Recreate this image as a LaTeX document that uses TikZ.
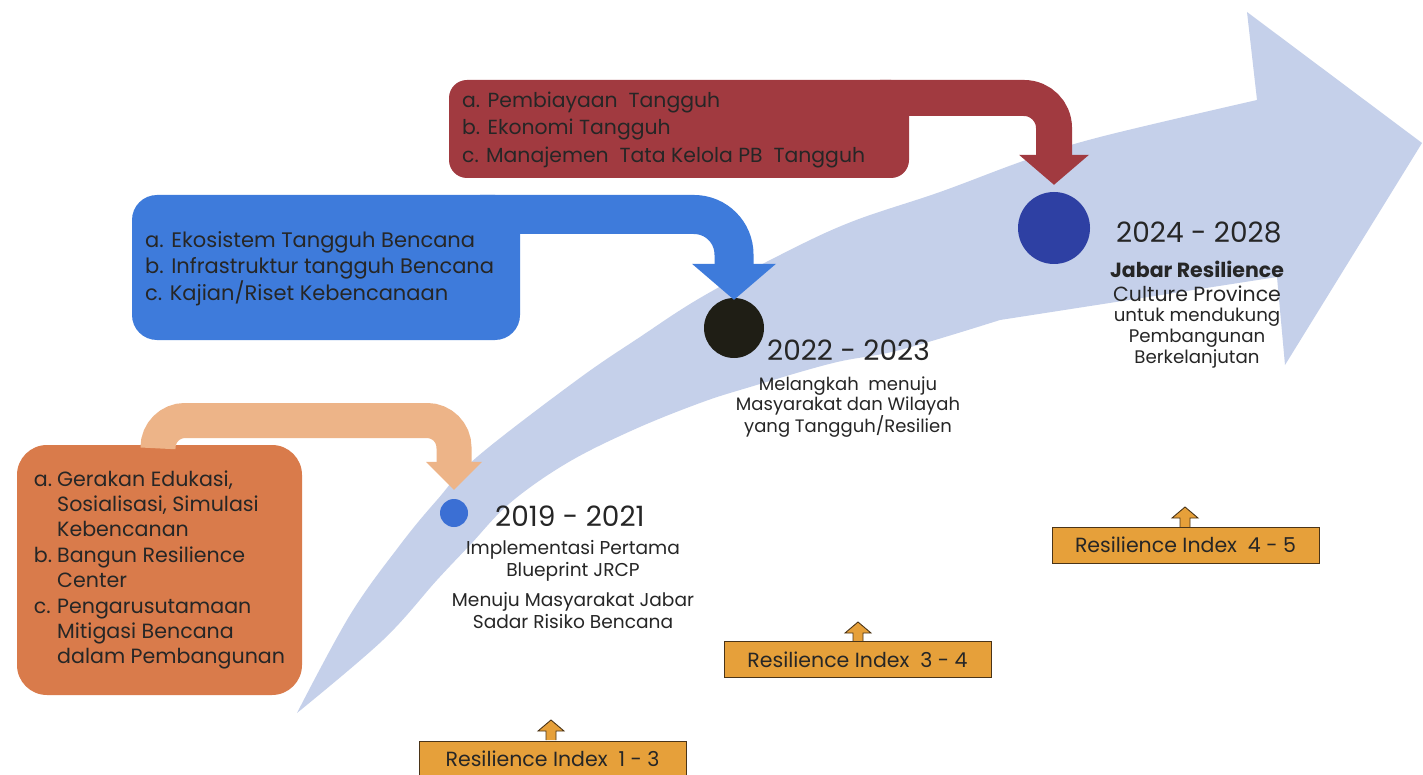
\documentclass[tikz,border=0pt]{standalone}
\usepackage{fontspec}
\setmainfont{Poppins}
\definecolor{bandc}{HTML}{C5D0EA}
\definecolor{peachc}{HTML}{EDB488}
\definecolor{oboxc}{HTML}{D97B4B}
\definecolor{bluec}{HTML}{3E7BDB}
\definecolor{redc}{HTML}{A13A40}
\definecolor{idxc}{HTML}{E6A03A}
\definecolor{idxb}{HTML}{4A3418}
\definecolor{txtc}{HTML}{262626}
\definecolor{dotA}{HTML}{3B6FD4}
\definecolor{dotB}{HTML}{1F1E15}
\definecolor{dotC}{HTML}{2E40A3}
\newcommand\setfs[2]{\fontsize{#1}{#2}\selectfont}
\begin{document}
\begin{tikzpicture}[x=1pt,y=-1pt,
  lbl/.style={text=txtc, inner sep=0pt},
  idxbox/.style={fill=idxc, draw=idxb, line width=0.9pt, minimum width=267pt, minimum height=36pt, inner sep=0pt, text=txtc, font=\setfs{20.5}{22}},
  idxarrow/.style={fill=idxc, draw=idxb, line width=0.9pt, line join=miter},
  dotstyle/.style={circle, inner sep=0pt}
]
\useasboundingbox (0,0) rectangle (1423,775);
\fill[white] (0,0) rectangle (1423,775);

% big curved background arrow
\fill[bandc] plot[smooth, tension=0.6] coordinates {(297,713) (350,615) (400,545) (437,500) (477,457) (577,380) (640,337) (700,298) (780,255) (851,222) (940,192) (1026,160) (1100,137) (1257,100)}
  -- (1247,12) -- (1422,143) -- (1285,365) -- (1277,277)
  -- plot[smooth, tension=0.6] coordinates {(1000,320) (900,350) (833,363) (750,387) (700,403) (633,430) (567,463) (510,503) (470,545) (437,580) (383,640) (297,713)} -- cycle;

% dots
\node[dotstyle, fill=dotA, minimum size=28pt] (d1) at (454,513) {};
\node[dotstyle, fill=dotB, minimum size=60pt] (d2) at (734,328) {};
\node[dotstyle, fill=dotC, minimum size=72pt] (d3) at (1054,228) {};

% orange box and peach connector
\node[fill=oboxc, rounded corners=30pt, minimum width=285pt, minimum height=250pt, inner sep=0pt] (ob) at (159.5,570) {};
\coordinate (pk) at (158,420.5);
\draw[peachc, line width=35pt, rounded corners=27pt] (ob.north -| pk) -- (pk) -| ([yshift=34pt]d1.north);
\fill[peachc] ([yshift=9pt]d1.north) -- ++(-28,-28) -- ++(56,0) -- cycle;
\node[lbl, anchor=center] (obt) at (ob.center) {\setfs{20.6}{25.4}\begin{tabular}{@{}l@{\hspace{5pt}}l@{}}
a. & Gerakan Edukasi,\\
   & Sosialisasi, Simulasi\\
   & Kebencanan\\
b. & Bangun Resilience\\
   & Center\\
c. & Pengarusutamaan\\
   & Mitigasi Bencana\\
   & dalam Pembangunan
\end{tabular}};

% blue box and connector
\node[fill=bluec, rounded corners=25pt, minimum width=388pt, minimum height=145pt, inner sep=0pt] (bb) at (326,267.5) {};
\coordinate (bk) at (480,214.5);
\draw[bluec, line width=39pt, rounded corners=40pt] (bk) -| ([yshift=32pt]d2.north);
\fill[bluec] ([yshift=-2pt]d2.north) -- ++(-42,-36) -- ++(84,0) -- cycle;
\node[lbl, anchor=west, align=left, font=\setfs{21}{26.5}] (bbt) at (145,268.5) {a. Ekosistem Tangguh Bencana\\b. Infrastruktur tangguh Bencana\\c. Kajian/Riset Kebencanaan};

% red box and connector
\node[fill=redc, rounded corners=18pt, minimum width=460pt, minimum height=98pt, inner sep=0pt] (rb) at (679,129) {};
\coordinate (rk) at (880,98);
\draw[redc, line width=36pt, rounded corners=30pt] (rk) -| ([yshift=35pt]d3.north);
\fill[redc] ([yshift=7pt]d3.north) -- ++(-35,-30) -- ++(70,0) -- cycle;
\node[lbl, anchor=west, align=left, font=\setfs{20.4}{27.5}] (rbt) at (462,129.5) {a. Pembiayaan\ \ Tangguh\\b. Ekonomi Tangguh\\c. Manajemen\ \ Tata Kelola PB\ \ Tangguh};

% year labels
\node[lbl, anchor=west, font=\setfs{28}{30}] (y1) at (495,516) {2019 - 2021};
\node[lbl, font=\setfs{18.6}{22}, align=center] (t1a) at (573,561) {Implementasi Pertama\\Blueprint JRCP};
\node[lbl, font=\setfs{18.6}{22}, align=center] (t1b) at (573,611) {Menuju Masyarakat Jabar\\Sadar Risiko Bencana};

\node[lbl, anchor=west, font=\setfs{28}{30}] (y2) at (767,350) {2022 - 2023};
\node[lbl, font=\setfs{18}{20}, align=center] (t2) at (848,407) {Melangkah\ \ menuju\\Masyarakat dan Wilayah\\yang Tangguh/Resilien};

\node[lbl, anchor=west, font=\setfs{28}{30}] (y3) at (1116,232) {2024 - 2028};
\node[lbl, font=\setfs{20.5}{24}, align=center] (t3a) at (1197,281) {\bfseries Jabar Resilience\\Culture Province};
\node[lbl, font=\setfs{18.2}{21}, align=center] (t3b) at (1197,338) {untuk mendukung\\Pembangunan\\Berkelanjutan};

% resilience index boxes with small up arrows
\draw[idxarrow] (546,740) -- ++(0,-9) -- ++(-8,0) -- ++(13,-11) -- ++(13,11) -- ++(-8,0) -- ++(0,9);
\draw[idxarrow] (853,642) -- ++(0,-9) -- ++(-8,0) -- ++(13,-11) -- ++(13,11) -- ++(-8,0) -- ++(0,9);
\draw[idxarrow] (1180,527) -- ++(0,-9) -- ++(-8,0) -- ++(13,-11) -- ++(13,11) -- ++(-8,0) -- ++(0,9);
\node[idxbox] (r1) at (552.5,759) {Resilience Index\ \ 1 - 3};
\node[idxbox] (r2) at (857.5,659.5) {Resilience Index\ \ 3 - 4};
\node[idxbox] (r3) at (1185.5,545) {Resilience Index\ \ 4 - 5};
\end{tikzpicture}
\end{document}
